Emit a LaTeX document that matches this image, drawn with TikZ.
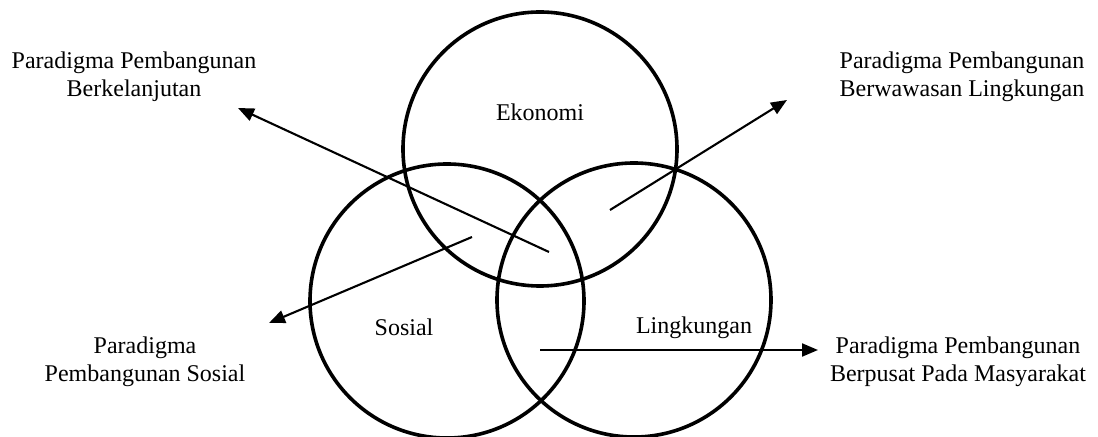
\documentclass[tikz,border=0pt]{standalone}
\usepackage{fontspec}
\setmainfont{Liberation Serif}
\usepackage{tikz}
\usetikzlibrary{arrows.meta,positioning}

\begin{document}
\begin{tikzpicture}[
  x=0.5pt, y=-0.5pt,
  ring/.style={circle, draw, line width=1.8pt, minimum size=137pt, inner sep=0pt},
  lbl/.style={font=\fontsize{12}{14}\selectfont, inner sep=0pt},
  note/.style={font=\fontsize{12}{14}\selectfont, align=center, inner sep=0pt},
  arr/.style={-{Triangle[length=8pt,width=6.5pt]}, line width=1.05pt}]

\useasboundingbox (0,0) rectangle (1098,437);

\node[ring] (eko) at (540,149) {};
\node[ring] (sos) at (447,301) {};
\node[ring] (ling) at (634,300) {};

\node[lbl] (ekotxt) at (540,112) {Ekonomi};
\node[lbl] (sostxt) at (404,327) {Sosial};
\node[lbl] (lingtxt) at (694,328) {Lingkungan};

\node[note] (lanjut) at (134,77) {Paradigma Pembangunan\\Berkelanjutan};
\node[note] (wawasan) at (962,77) {Paradigma Pembangunan\\Berwawasan Lingkungan};
\node[note] (sosial) at (145,362) {Paradigma\\Pembangunan Sosial};
\node[note] (pusat) at (958,362) {Paradigma Pembangunan\\Berpusat Pada Masyarakat};

\coordinate (s1) at (549,252);
\coordinate (t1) at (238,108);
\coordinate (s2) at (610,210);
\coordinate (t2) at (787,100);
\coordinate (s3) at (472,237);
\coordinate (t3) at (269,323);
\coordinate (s4) at (540,350);
\coordinate (t4) at (818,350);

\draw[arr] (s1) -- (t1);
\draw[arr] (s2) -- (t2);
\draw[arr] (s3) -- (t3);
\draw[arr] (s4) -- (t4);
\end{tikzpicture}
\end{document}
